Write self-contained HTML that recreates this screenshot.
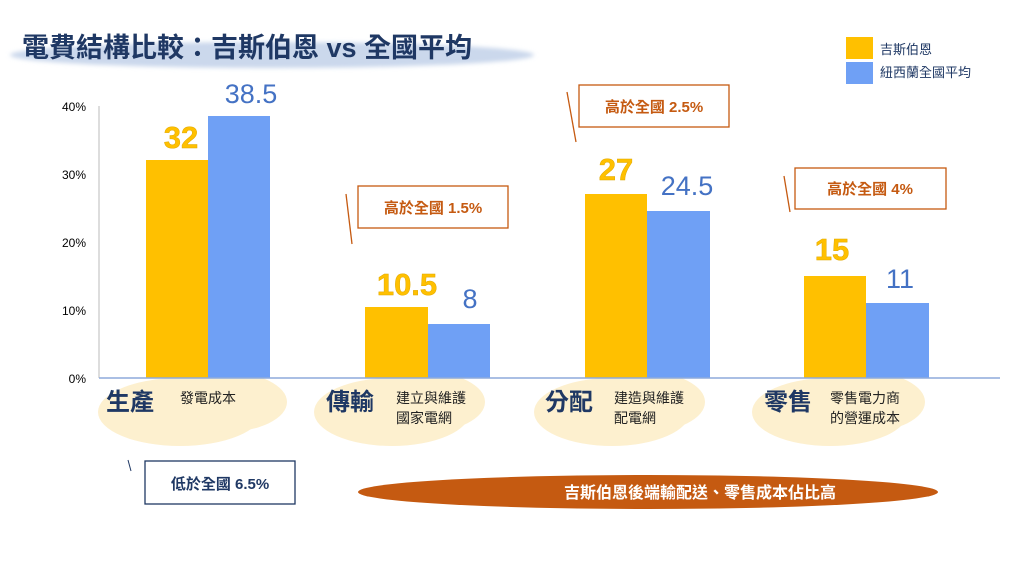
<!DOCTYPE html><html><head><meta charset="utf-8"><style>body{margin:0;background:#fff}svg{display:block}</style></head><body>
<svg width="1024" height="576" xmlns="http://www.w3.org/2000/svg" font-family="Liberation Sans, Noto Sans CJK TC, sans-serif">
<defs><filter id="b" x="-20%" y="-50%" width="140%" height="200%"><feGaussianBlur stdDeviation="2"/></filter></defs>
<ellipse cx="272" cy="55" rx="262" ry="13" fill="#cbd8ec" filter="url(#b)"/>
<text x="22" y="57" font-size="27" font-weight="bold" fill="#1f3864">電費結構比較：吉斯伯恩 vs 全國平均</text>
<rect x="846" y="37" width="27" height="22" fill="#ffc000"/><rect x="846" y="62" width="27" height="22" fill="#6fa0f5"/>
<text x="880" y="54" font-size="13" fill="#1f3864">吉斯伯恩</text><text x="880" y="77" font-size="13" fill="#1f3864">紐西蘭全國平均</text>
<g font-size="12" fill="#000" text-anchor="end"><text x="86" y="111">40%</text><text x="86" y="179">30%</text><text x="86" y="247">20%</text><text x="86" y="315">10%</text><text x="86" y="383">0%</text></g>
<line x1="99" y1="106" x2="99" y2="378" stroke="#bbb"/>
<g fill="#fdf0cf"><ellipse cx="180" cy="412" rx="82" ry="34"/><ellipse cx="225" cy="402" rx="62" ry="30"/>
<ellipse cx="392" cy="412" rx="78" ry="34"/><ellipse cx="425" cy="402" rx="60" ry="30"/>
<ellipse cx="612" cy="412" rx="78" ry="34"/><ellipse cx="645" cy="402" rx="60" ry="30"/>
<ellipse cx="830" cy="412" rx="78" ry="34"/><ellipse cx="865" cy="402" rx="60" ry="30"/></g>
<g fill="#ffc000"><rect x="146" y="160" width="62" height="218"/><rect x="365" y="307" width="63" height="71"/><rect x="585" y="194" width="62" height="184"/><rect x="804" y="276" width="62" height="102"/></g>
<g fill="#6fa0f5"><rect x="208" y="116" width="62" height="262"/><rect x="428" y="324" width="62" height="54"/><rect x="647" y="211" width="63" height="167"/><rect x="866" y="303" width="63" height="75"/></g>
<line x1="99" y1="378" x2="1000" y2="378" stroke="#8eaadb" stroke-width="1.5"/>
<g font-size="31" font-weight="bold" fill="#ffc000" stroke="#e0a800" stroke-width="0.5" text-anchor="middle"><text x="181" y="148">32</text><text x="407" y="295">10.5</text><text x="616" y="180">27</text><text x="832" y="260">15</text></g>
<g font-size="27" fill="#4472c4" text-anchor="middle"><text x="251" y="103">38.5</text><text x="470" y="308">8</text><text x="687" y="195">24.5</text><text x="900" y="288">11</text></g>
<g font-size="24" font-weight="bold" fill="#1f3864"><text x="106" y="410">生產</text><text x="326" y="410">傳輸</text><text x="545" y="410">分配</text><text x="764" y="410">零售</text></g>
<g font-size="14" fill="#222"><text x="180" y="403">發電成本</text><text x="396" y="403">建立與維護</text><text x="396" y="423">國家電網</text><text x="614" y="403">建造與維護</text><text x="614" y="423">配電網</text><text x="830" y="403">零售電力商</text><text x="830" y="423">的營運成本</text></g>
<g fill="none" stroke="#c55a11" stroke-width="1.3"><rect x="358" y="186" width="150" height="42"/><rect x="579" y="85" width="150" height="42"/><rect x="795" y="168" width="151" height="41"/>
<line x1="346" y1="194" x2="352" y2="244"/><line x1="567" y1="92" x2="576" y2="142"/><line x1="784" y1="176" x2="790" y2="212"/></g>
<g font-size="15" font-weight="bold" fill="#c55a11" text-anchor="middle"><text x="433" y="213">高於全國 1.5%</text><text x="654" y="112">高於全國 2.5%</text><text x="870" y="194">高於全國 4%</text></g>
<rect x="145" y="461" width="150" height="43" fill="none" stroke="#1f3864" stroke-width="1.3"/>
<line x1="128" y1="460" x2="131" y2="471" stroke="#1f3864"/>
<text x="220" y="489" font-size="15" font-weight="bold" fill="#1f3864" text-anchor="middle">低於全國 6.5%</text>
<ellipse cx="648" cy="492" rx="290" ry="17" fill="#c55a11"/>
<text x="700" y="498" font-size="16" font-weight="bold" fill="#fff" text-anchor="middle">吉斯伯恩後端輸配送、零售成本佔比高</text>
</svg></body></html>
